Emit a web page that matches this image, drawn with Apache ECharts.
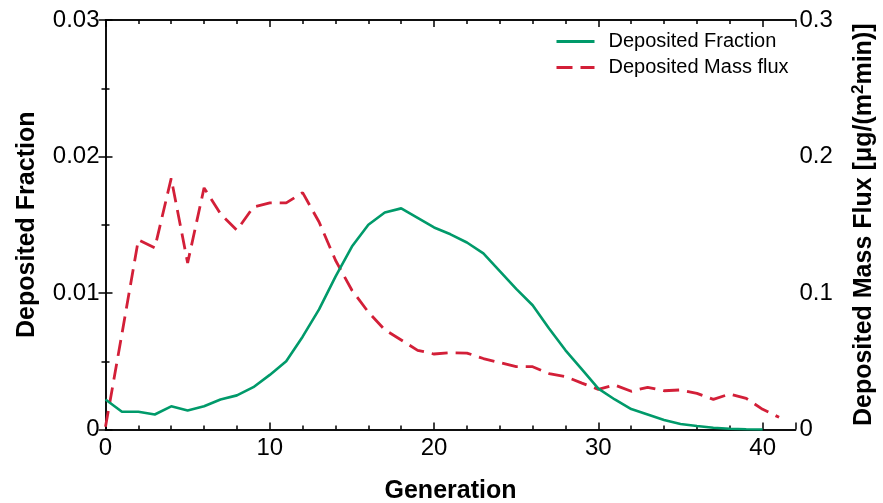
<!DOCTYPE html>
<html><head><meta charset="utf-8">
<script src="https://cdn.jsdelivr.net/npm/echarts@6/dist/echarts.min.js"></script>
<style>html,body{margin:0;padding:0;background:#fff}#c{width:883px;height:503px}</style>
</head><body><div id="c"></div>
<script>
// Generation index (x)
const generationsFraction = [0,1,2,3,4,5,6,7,8,9,10,11,12,13,14,15,16,17,18,19,20,21,22,23,24,25,26,27,28,29,30,31,32,33,34,35,36,37,38,39,40];
const depositedFraction = [0.0022,0.0013,0.0013,0.0011,0.0017,0.0014,0.0017,0.0022,0.0025,0.0031,0.0040,0.0050,0.0068,0.0088,0.0112,0.0134,0.0150,0.0159,0.0162,0.0155,0.0148,0.0143,0.0137,0.0129,0.0116,0.0103,0.0091,0.0074,0.0058,0.0044,0.0030,0.0022,0.0015,0.0011,0.0007,0.0004,0.00026,0.00013,0.00006,0.00002,0.0];
const generationsFlux = [0,1,2,3,4,5,6,7,8,9,10,11,12,13,14,15,16,17,18,19,20,21,22,23,24,25,26,27,28,29,30,31,32,33,34,35,36,37,38,39,40,41];
const depositedMassFlux = [0.002,0.070,0.139,0.133,0.184,0.122,0.177,0.158,0.146,0.163,0.166,0.166,0.1735,0.152,0.124,0.102,0.086,0.073,0.0656,0.058,0.0553,0.0563,0.056,0.052,0.049,0.046,0.046,0.041,0.0387,0.034,0.0294,0.0326,0.028,0.0309,0.0284,0.029,0.0265,0.0221,0.026,0.0228,0.0148,0.0089];
const seriesNames = ['Deposited Fraction', 'Deposited Mass flux'];
const xName = 'Generation';
const yLeftName = 'Deposited Fraction';
const yRightName = 'Deposited Mass Flux [μg/(m{sup|2}min)]';

const FONT = '"Liberation Sans", Arial, Helvetica, sans-serif';
const BLACK = '#000';
const lineAx = {show: true, lineStyle: {color: BLACK, width: 1.5}};

function xAxisBase(pos, major, showLabel) {
  return {
    type: 'value', position: pos, min: 0, max: 42,
    interval: major ? 10 : 2,
    axisLine: lineAx,
    axisTick: {show: true, inside: true, length: major ? 7 : 4, lineStyle: {color: BLACK, width: 1.5}},
    axisLabel: showLabel ? {
      show: true, color: BLACK, fontFamily: FONT, fontSize: 24, margin: 7,
      formatter: v => (v % 10 === 0 && v <= 40) ? String(v) : ''
    } : {show: false},
    splitLine: {show: false},
    minorTick: {show: false}
  };
}

const xAxes = [
  Object.assign(xAxisBase('bottom', true, true), {
    name: xName, nameLocation: 'middle', nameGap: 49,
    nameTextStyle: {color: BLACK, fontFamily: FONT, fontSize: 25, fontWeight: 'bold'}
  }),
  xAxisBase('bottom', false, false),
  xAxisBase('top', true, false),
  xAxisBase('top', false, false)
];

const yAxes = [
  {
    type: 'value', position: 'left', min: 0, max: 0.03, interval: 0.01,
    name: yLeftName, nameLocation: 'middle', nameGap: 66,
    nameTextStyle: {color: BLACK, fontFamily: FONT, fontSize: 25, fontWeight: 'bold'},
    axisLine: lineAx,
    axisTick: {show: true, inside: true, length: 7, lineStyle: {color: BLACK, width: 1.5}},
    minorTick: {show: true, splitNumber: 2, length: 4, lineStyle: {color: BLACK, width: 1.5}},
    axisLabel: {color: BLACK, fontFamily: FONT, fontSize: 24, margin: 6,
      formatter: v => v === 0 ? '0' : v.toFixed(2)},
    splitLine: {show: false}
  },
  {
    type: 'value', position: 'right', min: 0, max: 0.3, interval: 0.1,
    name: yRightName, nameLocation: 'middle', nameGap: 54,
    nameTextStyle: {color: BLACK, fontFamily: FONT, fontSize: 25, fontWeight: 'bold',
      rich: {sup: {fontFamily: FONT, fontSize: 17, fontWeight: 'bold', color: BLACK, verticalAlign: 'top', lineHeight: 30, padding: [0,0,10,0]}}},
    axisLine: lineAx,
    axisTick: {show: true, inside: true, length: 7, lineStyle: {color: BLACK, width: 1.5}},
    minorTick: {show: true, splitNumber: 2, length: 4, lineStyle: {color: BLACK, width: 1.5}},
    axisLabel: {color: BLACK, fontFamily: FONT, fontSize: 24, margin: 4,
      formatter: v => v === 0 ? '0' : v.toFixed(1)},
    splitLine: {show: false}
  }
];

const chart = echarts.init(document.getElementById('c'), null, {renderer: 'canvas'});
chart.setOption({
  backgroundColor: '#fff',
  animation: false,
  grid: {left: 105.5, right: 87.5, top: 20, bottom: 73.5, containLabel: false, outerBoundsMode: 'none'},
  legend: {
    orient: 'vertical', left: 555, top: 28.5, padding: 0, itemGap: 0,
    itemWidth: 38, itemHeight: 14,
    itemStyle: {opacity: 0},
    lineStyle: {width: 3},
    textStyle: {color: BLACK, fontFamily: FONT, fontSize: 20, lineHeight: 26, padding: [0,0,0,9]},
    data: seriesNames
  },
  xAxis: xAxes,
  yAxis: yAxes,
  series: [
    {
      name: seriesNames[0], type: 'line', xAxisIndex: 0, yAxisIndex: 0,
      symbol: 'none', showSymbol: false,
      lineStyle: {color: '#009a6a', width: 2.6},
      itemStyle: {color: '#009a6a'},
      data: generationsFraction.map((g, i) => [g, depositedFraction[i]]),
      z: 3
    },
    {
      name: seriesNames[1], type: 'line', xAxisIndex: 0, yAxisIndex: 1,
      symbol: 'none', showSymbol: false,
      lineStyle: {color: '#d31f38', width: 2.8, type: [16, 8]},
      itemStyle: {color: '#d31f38'},
      data: generationsFlux.map((g, i) => [g, depositedMassFlux[i]]),
      z: 2
    }
  ]
});
</script>
</body></html>
